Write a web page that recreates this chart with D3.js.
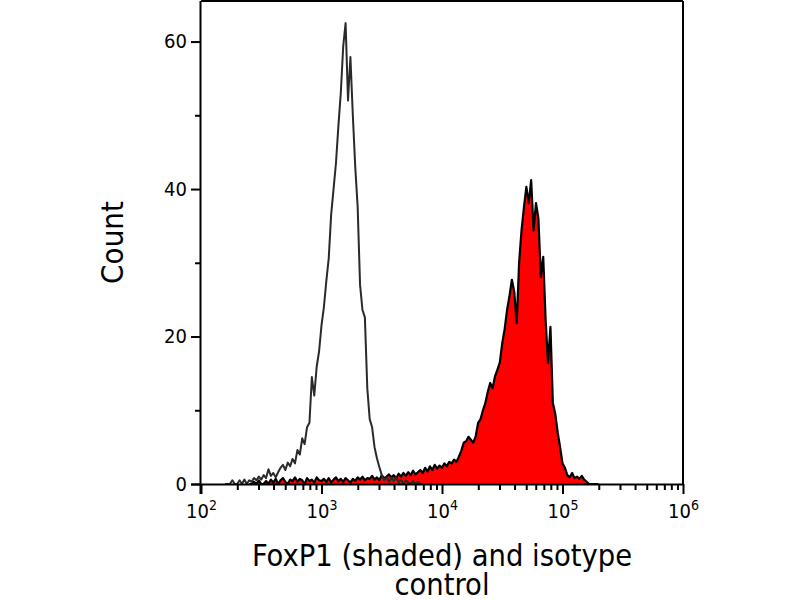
<!DOCTYPE html>
<html>
<head>
<meta charset="utf-8">
<script src="https://cdn.jsdelivr.net/npm/d3@7"></script>
<style>
  html, body { margin: 0; padding: 0; background: #fff; }
  svg { display: block; }
  text { font-family: "DejaVu Sans Condensed", "DejaVu Sans", sans-serif; font-stretch: condensed; }
</style>
</head>
<body>
<svg id="chart" width="800" height="600"></svg>
<script>
// ---- data (log10 channel start, step, counts) ----
const isoStart = 2.20;
const isoStep = 0.02;
const isotypeCounts = [
  0, 0, 0, 0.5, 0, 0, 0.5, 0, 0.6, 0,
  0.5, 0.3, 0.8, 0.5, 1.0, 0.6, 1.2, 0.8, 2.0, 1.1,
  1.5, 0.9, 1.6, 2.2, 2.6, 1.9, 2.9, 2.4, 3.4, 2.8,
  4.6, 4.0, 6.2, 5.4, 7.7, 8.3, 14.5, 12.0, 15.9, 18.0,
  21.5, 24.0, 27.5, 30.6, 36.5, 40.0, 43.5, 48.5, 53.0, 59.3,
  62.5, 52.0, 57.9, 50.0, 43.0, 37.6, 27.0, 23.6, 22.6, 13.0,
  8.8, 7.7, 5.0, 3.5, 2.3, 1.2, 0.5, 0.9, 0.3, 0.8,
  0.4, 0.9, 0.2, 0.6, 0, 0.5, 0.2, 0, 0.4, 0,
  0.3, 0, 0
];

const foxStart = 2.40;
const foxStep = 0.02;
const foxp1Counts = [
  0, 0, 0.3, 0, 0.5, 0, 0, 0.4, 0, 0.6,
  0.2, 0.7, 0, 0.5, 0.8, 0.3, 0, 0.6, 0.4, 0.9,
  0.3, 0.7, 0.5, 0, 0.8, 0.4, 0.6, 0.2, 0.9, 0.5,
  0.4, 0.7, 0.3, 0.8, 0.2, 0.6, 0.9, 0.4, 0.7, 0.3,
  0.8, 0.5, 0.2, 0.7, 0.4, 0.9, 0.6, 1.0, 0.5, 0.8,
  0.7, 1.1, 0.6, 0.9, 0.5, 1.2, 0.8, 1.0, 1.3, 0.9,
  1.2, 0.8, 1.4, 1.0, 1.5, 1.1, 1.6, 1.2, 1.8, 1.3,
  1.6, 1.9, 1.5, 2.2, 1.7, 2.4, 1.9, 2.6, 2.1, 2.5,
  2.2, 2.8, 2.4, 3.0, 2.8, 3.3, 3.0, 3.7, 4.5, 5.6,
  5.8, 6.4, 6.0, 5.6, 6.5, 8.3, 8.8, 10.0, 11.0, 12.5,
  13.7, 13.0, 14.6, 15.5, 16.5, 19.1, 21.0, 23.6, 25.5, 27.7,
  26.0, 21.8, 30.0, 34.4, 37.5, 40.3, 38.1, 41.2, 34.4, 38.1,
  36.0, 28.1, 30.8, 22.2, 16.4, 21.3, 11.0, 9.5, 7.0, 5.0,
  2.8, 2.2, 1.2, 0.9, 1.5, 0.8, 1.0, 0.7, 1.1, 0.6,
  0.3, 0, 0, 0, 0, 0
];

const xDomain = [1e2, 1e6];
const yDomain = [0, 65.5];
const yMajorTicks = [0, 20, 40, 60];
const yMinorTicks = [10, 30, 50];
const xMajorExponents = [2, 3, 4, 5, 6];
const xAxisTitle = ["FoxP1 (shaded) and isotype", "control"];
const yAxisTitle = "Count";

// ---- layout ----
const svg = d3.select("#chart");
const pL = 201, pR = 683, pT = 1, pB = 484;

const x = d3.scaleLog().domain(xDomain).range([pL, pR]);
const y = d3.scaleLinear().domain(yDomain).range([pB, pT]);

const toPoints = (start, step, counts) =>
  counts.map((c, i) => ({ v: Math.pow(10, start + i * step), c }));

const isoData = toPoints(isoStart, isoStep, isotypeCounts);
const foxData = toPoints(foxStart, foxStep, foxp1Counts);

// FoxP1 shaded
svg.append("path")
  .datum(foxData)
  .attr("fill", "#ff0000")
  .attr("stroke", "none")
  .attr("d", d3.area().x(d => x(d.v)).y0(y(0)).y1(d => y(d.c)));
svg.append("path")
  .datum(foxData)
  .attr("fill", "none")
  .attr("stroke", "#000")
  .attr("stroke-width", 2.2)
  .attr("stroke-linejoin", "round")
  .attr("d", d3.line().x(d => x(d.v)).y(d => y(d.c)));

// isotype outline
svg.append("path")
  .datum(isoData)
  .attr("fill", "none")
  .attr("stroke", "#2a2a2a")
  .attr("stroke-width", 2)
  .attr("stroke-linejoin", "round")
  .attr("d", d3.line().x(d => x(d.v)).y(d => y(d.c)));

// frame top and right
svg.append("line").attr("x1", pL).attr("x2", pR).attr("y1", pT).attr("y2", pT)
  .attr("stroke", "#000").attr("stroke-width", 2);
svg.append("line").attr("x1", pR).attr("x2", pR).attr("y1", pT).attr("y2", pB)
  .attr("stroke", "#000").attr("stroke-width", 2);

// x axis
const xMajor = xMajorExponents.map(e => Math.pow(10, e));
const xMinor = [];
for (let e = 2; e < 6; e++) for (let k = 2; k <= 9; k++) xMinor.push(k * Math.pow(10, e));

const gxMinor = svg.append("g").attr("transform", `translate(0,${pB})`)
  .call(d3.axisBottom(x).tickValues(xMinor).tickSize(6).tickFormat(""));
gxMinor.select(".domain").remove();
gxMinor.selectAll("line").attr("stroke-width", 2);

const gx = svg.append("g").attr("transform", `translate(0,${pB})`)
  .call(d3.axisBottom(x).tickValues(xMajor).tickSize(10).tickSizeOuter(0).tickFormat(""));
gx.select(".domain").attr("stroke-width", 2).attr("d", `M${pL - 10},0.5H${pR}`);
gx.selectAll(".tick line").attr("stroke-width", 2);
gx.selectAll(".tick").append("text")
  .attr("fill", "#000")
  .attr("y", 34)
  .attr("text-anchor", "middle")
  .attr("font-size", 20)
  .each(function(d) {
    const t = d3.select(this);
    t.append("tspan").text("10");
    t.append("tspan").attr("dy", -8).attr("font-size", 14).text(Math.round(Math.log10(d)));
  });

// y axis
const gyMinor = svg.append("g").attr("transform", `translate(${pL},0)`)
  .call(d3.axisLeft(y).tickValues(yMinorTicks).tickSize(6).tickFormat(""));
gyMinor.select(".domain").remove();
gyMinor.selectAll("line").attr("stroke-width", 2);

const gy = svg.append("g").attr("transform", `translate(${pL},0)`)
  .call(d3.axisLeft(y).tickValues(yMajorTicks).tickSize(10).tickSizeOuter(0).tickPadding(4));
gy.select(".domain").attr("stroke-width", 2).attr("d", `M-0.5,${pT}V${pB + 10}`);
gy.selectAll(".tick line").attr("stroke-width", 2);
gy.selectAll(".tick text").attr("font-size", 20).attr("font-family", null).attr("fill", "#000");

// titles
const xt = svg.append("text")
  .attr("x", (pL + pR) / 2)
  .attr("y", 566)
  .attr("text-anchor", "middle")
  .attr("font-size", 30.5)
  .attr("fill", "#000");
xAxisTitle.forEach((s, i) => xt.append("tspan").attr("x", (pL + pR) / 2).attr("dy", i === 0 ? 0 : 29).text(s));

svg.append("text")
  .attr("transform", `translate(123,${(pT + pB) / 2}) rotate(-90)`)
  .attr("text-anchor", "middle")
  .attr("font-size", 31)
  .attr("fill", "#000")
  .text(yAxisTitle);
</script>
</body>
</html>
